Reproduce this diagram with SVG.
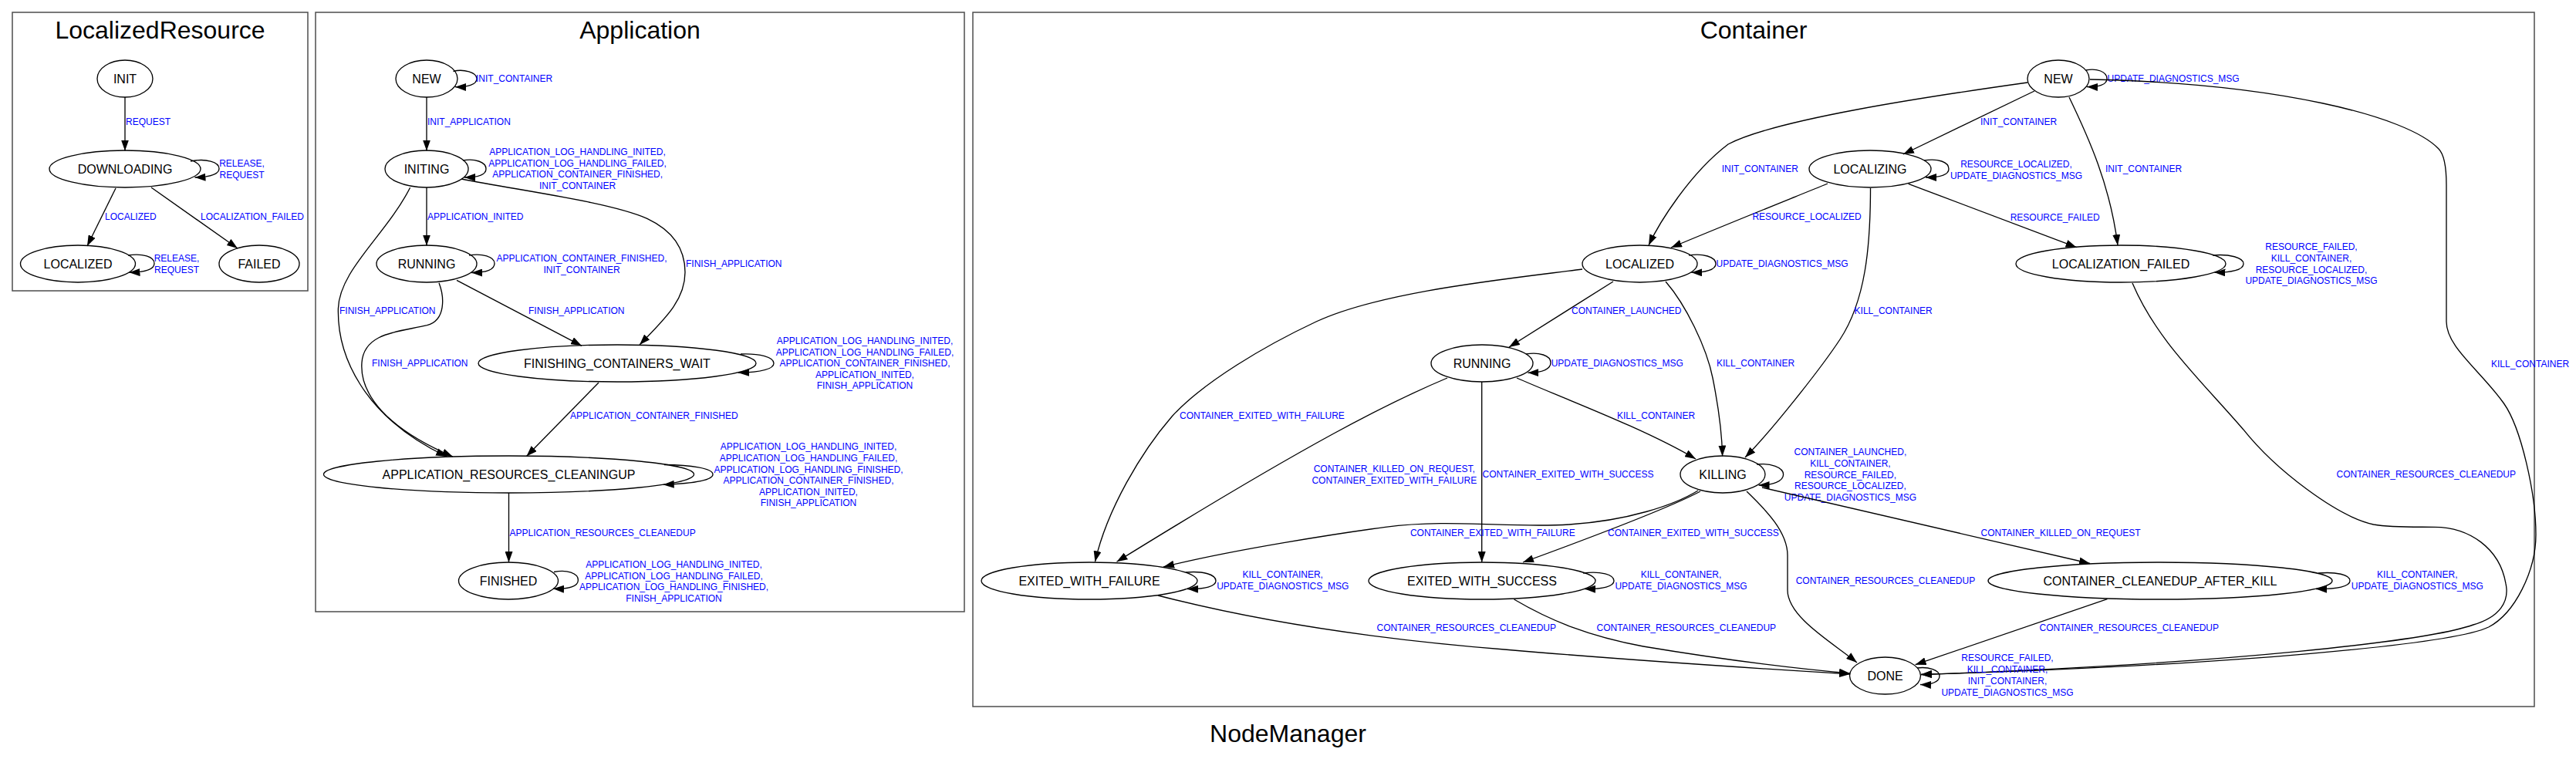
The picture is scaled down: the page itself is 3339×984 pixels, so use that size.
<svg xmlns="http://www.w3.org/2000/svg" width="3339" height="984" viewBox="0 0 3339 984">
<defs>
<style>
.cl{fill:none;stroke:#4d4d4d;stroke-width:1.5}
.n ellipse{fill:none;stroke:#000;stroke-width:1.33}
.nt{font-family:"Liberation Sans",Arial,sans-serif;font-size:16px;fill:#000;text-anchor:middle}
.t{font-family:"Liberation Sans",Arial,sans-serif;font-size:32px;fill:#000;text-anchor:middle}
.e path{fill:none;stroke:#000;stroke-width:1.33;marker-end:url(#arr)}
.el{font-family:"Liberation Sans",Arial,sans-serif;font-size:12px;fill:#0000ff}
.m{text-anchor:middle}
</style>
<marker id="arr" viewBox="0 0 14 10" refX="14" refY="5" markerWidth="14" markerHeight="10" orient="auto" markerUnits="userSpaceOnUse"><path d="M0,0 L14,5 L0,10 z" fill="#000"/></marker>
</defs>
<rect width="3339" height="984" fill="#fff"/>

<g id="cluster_LocalizedResource">
<rect class="cl" x="16" y="16" width="383" height="361"/>
<text class="t" x="207.5" y="50">LocalizedResource</text>
</g>
<g id="cluster_Application">
<rect class="cl" x="409" y="16" width="841" height="777"/>
<text class="t" x="829.5" y="50">Application</text>
</g>
<g id="cluster_Container">
<rect class="cl" x="1261" y="16" width="2024" height="900"/>
<text class="t" x="2273" y="50">Container</text>
</g>
<text class="t" x="1669.5" y="962">NodeManager</text>

<!-- LocalizedResource nodes -->
<g id="LR_INIT" class="n"><ellipse cx="162" cy="102" rx="36" ry="24"/><text class="nt" x="162" y="107.7">INIT</text></g>
<g id="LR_DOWNLOADING" class="n"><ellipse cx="162" cy="219" rx="98" ry="24"/><text class="nt" x="162" y="224.7">DOWNLOADING</text></g>
<g id="LR_LOCALIZED" class="n"><ellipse cx="101" cy="342" rx="74.5" ry="24"/><text class="nt" x="101" y="347.7">LOCALIZED</text></g>
<g id="LR_FAILED" class="n"><ellipse cx="336" cy="342" rx="52" ry="24"/><text class="nt" x="336" y="347.7">FAILED</text></g>

<!-- Application nodes -->
<g id="A_NEW" class="n"><ellipse cx="553" cy="102" rx="40" ry="24"/><text class="nt" x="553" y="107.7">NEW</text></g>
<g id="A_INITING" class="n"><ellipse cx="553" cy="219" rx="54" ry="24"/><text class="nt" x="553" y="224.7">INITING</text></g>
<g id="A_RUNNING" class="n"><ellipse cx="553" cy="342" rx="65" ry="24"/><text class="nt" x="553" y="347.7">RUNNING</text></g>
<g id="A_FINISHING_CONTAINERS_WAIT" class="n"><ellipse cx="800" cy="471" rx="180" ry="24"/><text class="nt" x="800" y="476.7">FINISHING_CONTAINERS_WAIT</text></g>
<g id="A_APPLICATION_RESOURCES_CLEANINGUP" class="n"><ellipse cx="659.5" cy="615" rx="240" ry="24"/><text class="nt" x="659.5" y="620.7">APPLICATION_RESOURCES_CLEANINGUP</text></g>
<g id="A_FINISHED" class="n"><ellipse cx="659" cy="753" rx="64.5" ry="24"/><text class="nt" x="659" y="758.7">FINISHED</text></g>

<!-- Container nodes -->
<g id="C_NEW" class="n"><ellipse cx="2668" cy="102" rx="40" ry="24"/><text class="nt" x="2668" y="107.7">NEW</text></g>
<g id="C_LOCALIZING" class="n"><ellipse cx="2424" cy="219" rx="79" ry="24"/><text class="nt" x="2424" y="224.7">LOCALIZING</text></g>
<g id="C_LOCALIZED" class="n"><ellipse cx="2125.5" cy="342" rx="74.5" ry="24"/><text class="nt" x="2125.5" y="347.7">LOCALIZED</text></g>
<g id="C_LOCALIZATION_FAILED" class="n"><ellipse cx="2749" cy="342" rx="136" ry="24"/><text class="nt" x="2749" y="347.7">LOCALIZATION_FAILED</text></g>
<g id="C_RUNNING" class="n"><ellipse cx="1921" cy="471" rx="66" ry="24"/><text class="nt" x="1921" y="476.7">RUNNING</text></g>
<g id="C_KILLING" class="n"><ellipse cx="2233" cy="615" rx="55" ry="24"/><text class="nt" x="2233" y="620.7">KILLING</text></g>
<g id="C_EXITED_WITH_FAILURE" class="n"><ellipse cx="1412" cy="753" rx="140" ry="24"/><text class="nt" x="1412" y="758.7">EXITED_WITH_FAILURE</text></g>
<g id="C_EXITED_WITH_SUCCESS" class="n"><ellipse cx="1921" cy="753" rx="147" ry="24"/><text class="nt" x="1921" y="758.7">EXITED_WITH_SUCCESS</text></g>
<g id="C_CONTAINER_CLEANEDUP_AFTER_KILL" class="n"><ellipse cx="2800" cy="753" rx="223" ry="24"/><text class="nt" x="2800" y="758.7">CONTAINER_CLEANEDUP_AFTER_KILL</text></g>
<g id="C_DONE" class="n"><ellipse cx="2443.5" cy="876" rx="46" ry="24"/><text class="nt" x="2443.5" y="881.7">DONE</text></g>

<g id="edges" class="e">
<!-- LocalizedResource -->
<path d="M162,126 L162,195.5"/>
<text class="el" x="163" y="162">REQUEST</text>
<path d="M247,209 C267,205 284,210 284,218.5 C284,226 272,229.5 252.5,230"/>
<text class="el m" x="313.5" y="216"><tspan x="313.5" y="216">RELEASE,</tspan><tspan x="313.5" y="231">REQUEST</tspan></text>
<path d="M150,244 L113,319"/>
<text class="el" x="136" y="285">LOCALIZED</text>
<path d="M196,243 L308,322"/>
<text class="el" x="260" y="285">LOCALIZATION_FAILED</text>
<path d="M166,331 C185,328 200,333 200,341.5 C200,349 188,353 167.5,353.3"/>
<text class="el m" x="229" y="339"><tspan x="229" y="339">RELEASE,</tspan><tspan x="229" y="353.5">REQUEST</tspan></text>

<!-- Application -->
<path d="M587.5,92.5 C601,89 618,94 618,102 C618,110 606,113 590,112.7"/>
<text class="el" x="617" y="106">INIT_CONTAINER</text>
<path d="M553,126 L553,195.5"/>
<text class="el" x="554" y="162">INIT_APPLICATION</text>
<path d="M600,208 C615,205 630,210 630,219 C630,227 618,230 602,230"/>
<text class="el m" x="748.6" y="201"><tspan x="748.6" y="201">APPLICATION_LOG_HANDLING_INITED,</tspan><tspan x="748.6" y="215.5">APPLICATION_LOG_HANDLING_FAILED,</tspan><tspan x="748.6" y="230">APPLICATION_CONTAINER_FINISHED,</tspan><tspan x="748.6" y="244.5">INIT_CONTAINER</tspan></text>
<path d="M553,243 L553,318.5"/>
<text class="el" x="554" y="285">APPLICATION_INITED</text>
<path d="M608,331 C625,328 641,333 641,341.5 C641,350 628,353.5 611,353.5"/>
<text class="el m" x="754" y="339"><tspan x="754" y="339">APPLICATION_CONTAINER_FINISHED,</tspan><tspan x="754" y="353.5">INIT_CONTAINER</tspan></text>
<path d="M598,232 C680,248 790,262 838.8,283.3 C870,298 888,320 888,353 C888,390 860,415 829,447"/>
<text class="el" x="889" y="346">FINISH_APPLICATION</text>
<path d="M531.6,243.3 C500,305 440,350 438.4,400 C437,460 470,540 579,592"/>
<text class="el" x="440" y="407">FINISH_APPLICATION</text>
<path d="M569,366.7 C576,385 578,415 553.6,421.7 C520,430 472,430 469,470 C466,510 500,555 587,592"/>
<text class="el" x="482" y="475">FINISH_APPLICATION</text>
<path d="M592,363.3 L754,448.3"/>
<text class="el" x="685" y="407">FINISH_APPLICATION</text>
<path d="M960,459 C985,458 1003,463 1003,471 C1003,479 985,482.5 957,483.3"/>
<text class="el m" x="1121" y="446"><tspan x="1121" y="446">APPLICATION_LOG_HANDLING_INITED,</tspan><tspan x="1121" y="460.6">APPLICATION_LOG_HANDLING_FAILED,</tspan><tspan x="1121" y="475.2">APPLICATION_CONTAINER_FINISHED,</tspan><tspan x="1121" y="489.8">APPLICATION_INITED,</tspan><tspan x="1121" y="504.4">FINISH_APPLICATION</tspan></text>
<path d="M776,496 L682.5,591.5"/>
<text class="el" x="739" y="543">APPLICATION_CONTAINER_FINISHED</text>
<path d="M861,602.5 C895,603 924,607 924,615 C924,623 895,627 859.7,628.3"/>
<text class="el m" x="1048" y="583.3"><tspan x="1048" y="583.3">APPLICATION_LOG_HANDLING_INITED,</tspan><tspan x="1048" y="597.9">APPLICATION_LOG_HANDLING_FAILED,</tspan><tspan x="1048" y="612.5">APPLICATION_LOG_HANDLING_FINISHED,</tspan><tspan x="1048" y="627.1">APPLICATION_CONTAINER_FINISHED,</tspan><tspan x="1048" y="641.7">APPLICATION_INITED,</tspan><tspan x="1048" y="656.3">FINISH_APPLICATION</tspan></text>
<path d="M659.5,639 L659.5,729"/>
<text class="el" x="660.5" y="695">APPLICATION_RESOURCES_CLEANEDUP</text>
<path d="M718,741.5 C735,738 749.4,743 749.4,752 C749.4,760 738,764 717,763.3"/>
<text class="el m" x="873.5" y="736"><tspan x="873.5" y="736">APPLICATION_LOG_HANDLING_INITED,</tspan><tspan x="873.5" y="750.6">APPLICATION_LOG_HANDLING_FAILED,</tspan><tspan x="873.5" y="765.2">APPLICATION_LOG_HANDLING_FINISHED,</tspan><tspan x="873.5" y="779.8">FINISH_APPLICATION</tspan></text>

<!-- Container -->
<path d="M2703.5,91 C2718,88 2731,93 2731,102 C2731,110 2720,113 2705,112.5"/>
<text class="el" x="2731.5" y="106">UPDATE_DIAGNOSTICS_MSG</text>
<path d="M2637,118 L2467,200"/>
<text class="el" x="2567" y="162">INIT_CONTAINER</text>
<path d="M2628,107 C2500,125 2300,155 2240,187 C2190,225 2150,290 2137,318"/>
<text class="el" x="2231.7" y="223">INIT_CONTAINER</text>
<path d="M2682,126 C2708,180 2735,240 2745,318"/>
<text class="el" x="2729" y="223">INIT_CONTAINER</text>
<path d="M2709,103 C2950,108 3120,150 3161,193 C3168,200 3171,215 3171,240 L3171,417 C3171,450 3215,480 3245.5,523 C3268,555 3287,640 3287,693 C3287,740 3260,795 3225.7,813 C3180,835 2900,862 2490,874.5"/>
<text class="el" x="3229" y="475.7">KILL_CONTAINER</text>
<path d="M2764,367 C2795,440 2850,490 2907.7,556.7 C2950,610 3030,670 3076.6,680 C3100,684 3130,683 3156,683.3 C3200,683.6 3240,710 3248,756.7 C3253,780 3240,800 3205.8,810 C3150,830 2900,860 2490,874.5"/>
<text class="el" x="3028.5" y="619">CONTAINER_RESOURCES_CLEANEDUP</text>
<path d="M2494,208 C2512,205 2526,210 2526,219 C2526,227 2514,230 2496,230"/>
<text class="el m" x="2613.5" y="216.5"><tspan x="2613.5" y="216.5">RESOURCE_LOCALIZED,</tspan><tspan x="2613.5" y="231.5">UPDATE_DIAGNOSTICS_MSG</tspan></text>
<path d="M2369,238 C2320,258 2240,290 2166,321"/>
<text class="el" x="2271.4" y="285.3">RESOURCE_LOCALIZED</text>
<path d="M2424.5,244 C2424.5,320 2418,390 2385,440 C2360,478 2295,560 2262,593"/>
<text class="el" x="2403.6" y="407.3">KILL_CONTAINER</text>
<path d="M2473.7,238.3 L2691.6,320.7"/>
<text class="el" x="2605.7" y="285.7">RESOURCE_FAILED</text>
<path d="M2868,331 C2890,329 2908,334 2908,342 C2908,350 2892,353.5 2870.5,353.3"/>
<text class="el m" x="2996" y="324.3"><tspan x="2996" y="324.3">RESOURCE_FAILED,</tspan><tspan x="2996" y="339">KILL_CONTAINER,</tspan><tspan x="2996" y="353.7">RESOURCE_LOCALIZED,</tspan><tspan x="2996" y="368.3">UPDATE_DIAGNOSTICS_MSG</tspan></text>
<path d="M2189,331 C2207,328 2224,333 2224,342 C2224,350 2210,353.5 2192.4,353.3"/>
<text class="el" x="2224.5" y="346">UPDATE_DIAGNOSTICS_MSG</text>
<path d="M2091,365 L1956,450"/>
<text class="el" x="2037" y="407.3">CONTAINER_LAUNCHED</text>
<path d="M2159,365 C2185,395 2212,450 2220,490 C2228,530 2232,560 2232.6,591.5"/>
<text class="el" x="2225" y="475">KILL_CONTAINER</text>
<path d="M2051,349 C1950,362 1790,378 1706,417 C1640,448 1560,495 1519,540 C1480,585 1435,660 1419.4,728.3"/>
<text class="el" x="1529" y="543.3">CONTAINER_EXITED_WITH_FAILURE</text>
<path d="M1978,459 C1995,456 2010,461 2010,470 C2010,479 1998,483 1980.4,483.3"/>
<text class="el" x="2010.7" y="475">UPDATE_DIAGNOSTICS_MSG</text>
<path d="M1966,490 C2030,518 2130,555 2198,595"/>
<text class="el" x="2096" y="543.3">KILL_CONTAINER</text>
<path d="M1876,490 C1800,522 1700,572 1447.5,728.3"/>
<text class="el m" x="1807.3" y="612"><tspan x="1807.3" y="612">CONTAINER_KILLED_ON_REQUEST,</tspan><tspan x="1807.3" y="627">CONTAINER_EXITED_WITH_FAILURE</tspan></text>
<path d="M1920.7,495 L1920.7,729"/>
<text class="el" x="1921.6" y="619.3">CONTAINER_EXITED_WITH_SUCCESS</text>
<path d="M2277,602 C2295,600 2311.6,606 2311.6,615 C2311.6,624 2298,629 2279.5,629"/>
<text class="el m" x="2398.4" y="590.3"><tspan x="2398.4" y="590.3">CONTAINER_LAUNCHED,</tspan><tspan x="2398.4" y="605">KILL_CONTAINER,</tspan><tspan x="2398.4" y="619.5">RESOURCE_FAILED,</tspan><tspan x="2398.4" y="634">RESOURCE_LOCALIZED,</tspan><tspan x="2398.4" y="648.5">UPDATE_DIAGNOSTICS_MSG</tspan></text>
<path d="M2284,632 L2709,730.5"/>
<text class="el" x="2567.5" y="695.3">CONTAINER_KILLED_ON_REQUEST</text>
<path d="M2201,636 C2170,655 2110,675 2034,680 C1958,685 1880,672 1795.7,683.3 C1740,690.8 1600,712 1508,735"/>
<text class="el" x="1827.9" y="695.3">CONTAINER_EXITED_WITH_FAILURE</text>
<path d="M2204,637 C2170,655 2100,683 1974,729"/>
<text class="el" x="2084" y="695.3">CONTAINER_EXITED_WITH_SUCCESS</text>
<path d="M2264,637 C2290,662 2317,690 2317,720 L2317,765 C2317,800 2375,833 2407,859"/>
<text class="el" x="2327.7" y="757">CONTAINER_RESOURCES_CLEANEDUP</text>
<path d="M1537,742 C1560,740 1576,745 1576,753 C1576,760 1562,764 1539,763.5"/>
<text class="el m" x="1662.7" y="748.7"><tspan x="1662.7" y="748.7">KILL_CONTAINER,</tspan><tspan x="1662.7" y="763.7">UPDATE_DIAGNOSTICS_MSG</tspan></text>
<path d="M1501,772 C1640,808 1800,830 1950,842 C2100,855 2300,868 2398,874"/>
<text class="el" x="1784.5" y="817.7">CONTAINER_RESOURCES_CLEANEDUP</text>
<path d="M2052,743 C2075,740 2092,745 2092,753 C2092,760 2078,764 2054,763.5"/>
<text class="el m" x="2179" y="748.7"><tspan x="2179" y="748.7">KILL_CONTAINER,</tspan><tspan x="2179" y="763.7">UPDATE_DIAGNOSTICS_MSG</tspan></text>
<path d="M1962.5,777 C2010,805 2060,825 2130,838 C2220,853 2320,866 2398,873"/>
<text class="el" x="2069.6" y="817.7">CONTAINER_RESOURCES_CLEANEDUP</text>
<path d="M3005,743 C3028,741 3046,745 3046,753 C3046,760 3030,764 3002,763.5"/>
<text class="el m" x="3133.3" y="748.7"><tspan x="3133.3" y="748.7">KILL_CONTAINER,</tspan><tspan x="3133.3" y="763.7">UPDATE_DIAGNOSTICS_MSG</tspan></text>
<path d="M2731.4,776.7 L2482.6,861.7"/>
<text class="el" x="2643.5" y="817.7">CONTAINER_RESOURCES_CLEANEDUP</text>
<path d="M2485,866 C2500,864 2514,869 2514,876.5 C2514,884 2503,888 2489,887.5"/>
<text class="el m" x="2602" y="857"><tspan x="2602" y="857">RESOURCE_FAILED,</tspan><tspan x="2602" y="872">KILL_CONTAINER,</tspan><tspan x="2602" y="887">INIT_CONTAINER,</tspan><tspan x="2602" y="901.5">UPDATE_DIAGNOSTICS_MSG</tspan></text>
</g>
</svg>
